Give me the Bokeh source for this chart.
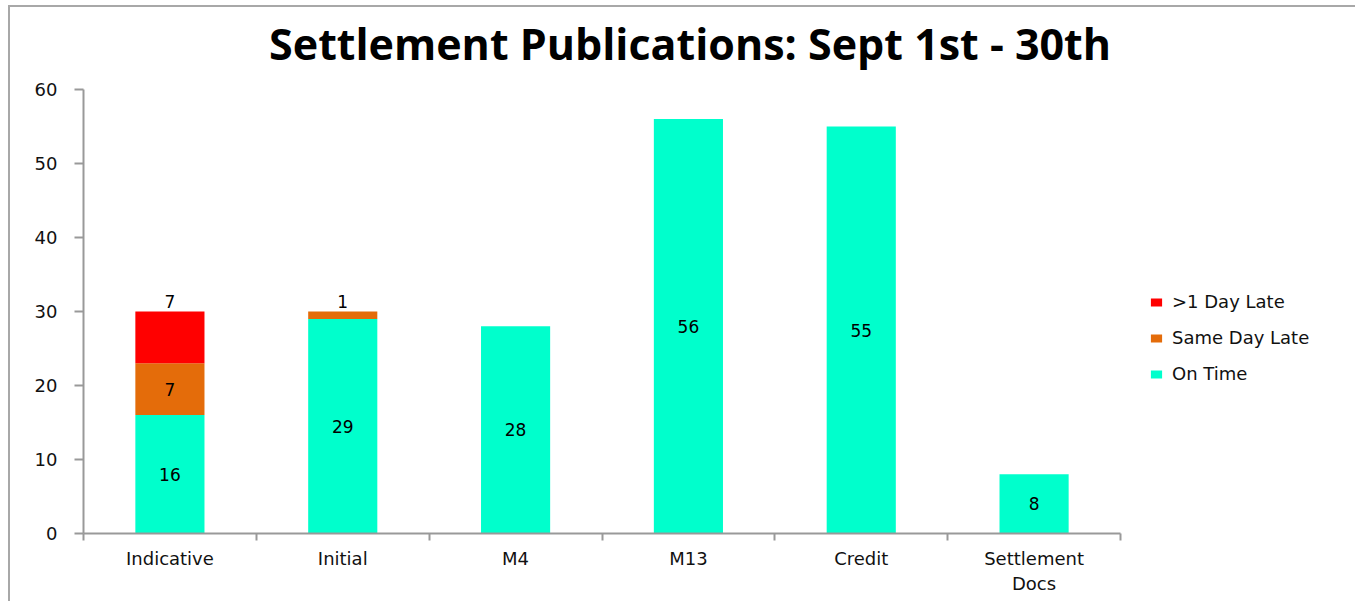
from bokeh.plotting import figure
from bokeh.models import (ColumnDataSource, FixedTicker, Legend, LegendItem,
                          LabelSet, Label, Range1d)
from bokeh.core.properties import value
from bokeh.embed import file_html
from bokeh.resources import INLINE

categories = ["Indicative", "Initial", "M4", "M13", "Credit", "Settlement Docs"]
tick_labels = ["Indicative", "Initial", "M4", "M13", "Credit", "Settlement\nDocs"]
on_time = [16, 29, 28, 56, 55, 8]
same_day_late = [7, 1, 0, 0, 0, 0]
day_late = [7, 0, 0, 0, 0, 0]
series_names = ["On Time", "Same Day Late", ">1 Day Late"]
colors = ["#00FFCC", "#E46C0A", "#FF0000"]
y_ticks = [0, 10, 20, 30, 40, 50, 60]
y_max = 60
title_text = "Settlement Publications: Sept 1st - 30th"

n = len(categories)
W, H, LEFT, BOTTOM = 1347, 596, 73, 70
axis_w, axis_h = 1037, 444          # pixel lengths of the two axes
frame_w, frame_h = W - LEFT, H - BOTTOM
x_end = n * frame_w / axis_w        # extend ranges so title/legend sit inside frame
y_end = y_max * frame_h / axis_h

xs = [i + 0.5 for i in range(n)]
src = ColumnDataSource(dict(x=xs, on=on_time, same=same_day_late, late=day_late))

p = figure(width=W, height=H, output_backend="svg", toolbar_location=None,
           x_range=Range1d(0, x_end), y_range=Range1d(0, y_end),
           min_border_left=LEFT, min_border_right=0, min_border_top=0,
           min_border_bottom=BOTTOM)
p.styles = {"border-left": "2px solid #a8a8a8", "border-top": "2px solid #a8a8a8",
            "margin-left": "8px", "margin-top": "5px"}
p.xgrid.visible = False
p.ygrid.visible = False
p.outline_line_color = None

rs = p.vbar_stack(["on", "same", "late"], x="x", width=0.4, source=src,
                  color=colors, line_color=None)

# data labels
mid_x, mid_y, mid_t, top_x, top_y, top_t = [], [], [], [], [], []
for i in range(n):
    bottom = 0
    vals = [on_time[i], same_day_late[i], day_late[i]]
    top_idx = max(k for k in range(3) if vals[k] > 0)
    for k, v in enumerate(vals):
        if v > 0:
            if k > 0 and k == top_idx and (k == 2 or v < 3):
                top_x.append(xs[i]); top_y.append(bottom + v); top_t.append(str(v))
            else:
                mid_x.append(xs[i]); mid_y.append(bottom + v / 2); mid_t.append(str(v))
        bottom += v

for (lx, ly, lt, base, off) in [(mid_x, mid_y, mid_t, "middle", 0),
                                (top_x, top_y, top_t, "bottom", 4)]:
    s = ColumnDataSource(dict(x=lx, y=ly, t=lt))
    p.add_layout(LabelSet(x="x", y="y", text="t", source=s, text_align="center",
                          text_baseline=base, y_offset=off,
                          text_font=value("DejaVu Sans"), text_font_size=value("17px"),
                          text_color=value("black")))

# axes
ax = p.xaxis[0]
ax.bounds = (0, n)
ax.ticker = FixedTicker(ticks=xs, minor_ticks=list(range(n + 1)))
ax.major_label_overrides = {x: t for x, t in zip(xs, tick_labels)}
ax.major_tick_line_color = None
ax.minor_tick_line_color = "#999999"
ax.minor_tick_out = 7
ax.minor_tick_in = 0
ax.axis_line_color = "#999999"
ax.axis_line_width = 2
ax.minor_tick_line_width = 2
ax.major_label_text_font = "DejaVu Sans"
ax.major_label_text_font_size = "18px"
ax.major_label_text_color = "#111111"
ax.major_label_standoff = 7

ay = p.yaxis[0]
ay.bounds = (0, y_max)
ay.ticker = FixedTicker(ticks=y_ticks, minor_ticks=[])
ay.major_tick_out = 9
ay.major_tick_in = 0
ay.major_tick_line_color = "#999999"
ay.major_tick_line_width = 2
ay.axis_line_color = "#999999"
ay.axis_line_width = 2
ay.major_label_text_font = "DejaVu Sans"
ay.major_label_text_font_size = "18px"
ay.major_label_text_color = "#111111"
ay.major_label_standoff = 17

# title (inside the extended frame, above the axis area)
p.add_layout(Label(x=n * 0.5849, y=y_max * 1.1047, text=title_text,
                   text_align="center", text_baseline="alphabetic",
                   text_font="Open Sans", text_font_style="bold",
                   text_font_size="43px", text_color="black"))

items = [LegendItem(label=series_names[k], renderers=[rs[k]]) for k in [2, 1, 0]]
legend = Legend(items=items, location=(1066, 149), padding=0, margin=0,
                border_line_color=None, background_fill_alpha=0,
                glyph_width=14, glyph_height=10, label_standoff=9,
                label_height=20, spacing=15,
                label_text_font="DejaVu Sans", label_text_font_size="18px",
                label_text_color="#111111")
p.add_layout(legend)

open("out.html", "w").write(file_html(p, INLINE))
